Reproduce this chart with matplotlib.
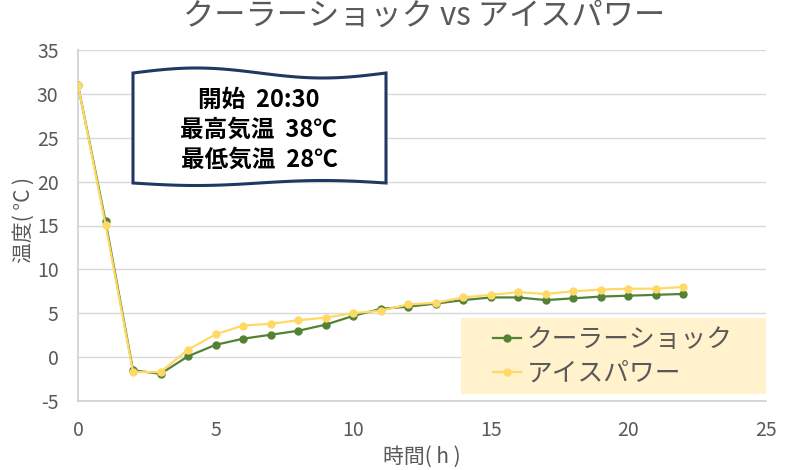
import matplotlib
matplotlib.use("Agg")
import matplotlib.pyplot as plt
from matplotlib.patches import Polygon, Rectangle
import numpy as np

plt.rcParams['font.family'] = ['Noto Sans CJK JP', 'DejaVu Sans']
plt.rcParams['axes.unicode_minus'] = False

hours = list(range(23))
cooler_shock = [31, 15.5, -1.5, -1.9, 0.1, 1.4, 2.1, 2.55, 3.0, 3.7, 4.7, 5.5, 5.75,
                6.1, 6.5, 6.8, 6.8, 6.5, 6.7, 6.9, 7.0, 7.1, 7.2]
ice_power = [31, 15.1, -1.7, -1.7, 0.85, 2.6, 3.6, 3.8, 4.2, 4.5, 5.0, 5.3, 6.0,
             6.2, 6.8, 7.1, 7.4, 7.2, 7.5, 7.7, 7.8, 7.8, 8.0]
series_names = ['クーラーショック', 'アイスパワー']
title = 'クーラーショック vs アイスパワー'
note_lines = ['開始  20:30', '最高気温  38℃', '最低気温  28℃']

W, H = 800, 470
gray = '#595959'
green = '#548235'
yellow = '#FFD966'

fig = plt.figure(figsize=(W / 100, H / 100), dpi=100)
ax = fig.add_axes([78 / W, 1 - 401 / H, 688 / W, 351 / H])

l1, = ax.plot(hours, cooler_shock, color=green, lw=1.6, marker='o', ms=5, zorder=3)
l2, = ax.plot(hours, ice_power, color=yellow, lw=1.6, marker='o', ms=5, zorder=4)

ax.set_xlim(0, 25)
ax.set_ylim(-5, 35)
ax.set_xticks(range(0, 26, 5))
ax.set_yticks(range(-5, 36, 5))
ax.grid(axis='y', color='#D9D9D9', lw=1)
ax.set_axisbelow(True)
for s in ['top', 'right']:
    ax.spines[s].set_visible(False)
for s in ['left', 'bottom']:
    ax.spines[s].set_color('#D0D0D0')
    ax.spines[s].set_linewidth(1.2)
ax.tick_params(axis='x', length=0, pad=14, labelsize=14, labelcolor=gray)
ax.tick_params(axis='y', length=0, pad=14, labelsize=14, labelcolor=gray)

fig.text(422 / W, 1 - 457 / H, '時間( h )', ha='center', va='center', fontsize=15, color=gray)
fig.text(24 / W, 1 - 220 / H, '温度( °C )', ha='center', va='center', fontsize=15,
         color=gray, rotation=90)
fig.text(424 / W, 1 - 16 / H, title, ha='center', va='center', fontsize=22.5, color=gray)

# wave-shaped note box
t = np.linspace(0, 1, 60)
xs = 133 + 253 * t
top = 73 - 5 * np.sin(2 * np.pi * t)
bot = 183 + 2.5 * np.sin(2 * np.pi * t)
px = np.concatenate([xs, xs[::-1]])
py = np.concatenate([top, bot[::-1]])
pts = np.column_stack([px / W, 1 - py / H])
fig.patches.append(Polygon(pts, closed=True, facecolor='white', edgecolor='#203864',
                           lw=2.2, transform=fig.transFigure, figure=fig, zorder=5))
for i, line in enumerate(note_lines):
    fig.text(259 / W, 1 - (100 + 30 * i) / H, line, ha='center', va='center',
             fontsize=17, fontweight='bold', color='black', zorder=6)

# legend box
fig.patches.append(Rectangle((461 / W, 1 - 394 / H), 305 / W, 76 / H, facecolor='#FFF2CC',
                             edgecolor='none', transform=fig.transFigure, figure=fig, zorder=5))
leg = fig.legend([l1, l2], series_names, loc='center left',
                 bbox_to_anchor=(493 / W, 1 - 357 / H), frameon=False, fontsize=18.5,
                 handlelength=1.1, handletextpad=0.2, labelspacing=0.3, labelcolor=gray,
                 borderpad=0, borderaxespad=0)
leg.set_zorder(7)

fig.savefig('out.png', dpi=100)
